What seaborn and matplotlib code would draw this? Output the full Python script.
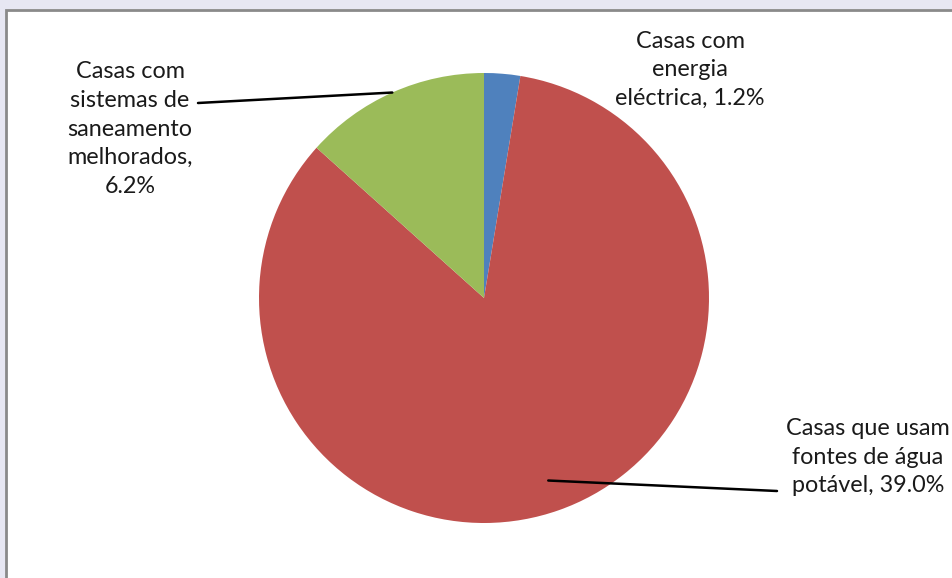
import numpy as np
import matplotlib
matplotlib.use("Agg")
import matplotlib.pyplot as plt
import seaborn as sns
from matplotlib.patches import Rectangle

categories = ["Casas com\nenergia\neléctrica", "Casas que usam\nfontes de água\npotável", "Casas com\nsistemas de\nsaneamento\nmelhorados"]
values = [1.2, 39.0, 6.2]
value_labels = ["1.2%", "39.0%", "6.2%"]
colors = ["#4F81BD", "#C0504D", "#9BBB59"]

sns.set_theme(style="white")
plt.rcParams['font.family'] = ['Lato', 'DejaVu Sans']

W, H = 952, 578
fig = plt.figure(figsize=(W / 100, H / 100), dpi=100)
fig.patch.set_facecolor("#e7e7f3")

# white chart area with gray border
fig.patches.append(Rectangle((6 / W, -0.01), 1.02, 1 - 10 / H + 0.01, transform=fig.transFigure,
                             facecolor="white", edgecolor="#8a8a8a", linewidth=2, zorder=-5))

cx, cy, r = 484, 298, 225
ax = fig.add_axes([(cx - r) / W, (H - cy - r) / H, 2 * r / W, 2 * r / H])
ax.set_zorder(2)
ax.set_facecolor("none")
wedges, _ = ax.pie(values, colors=sns.color_palette(colors), startangle=90, counterclock=False,
                   radius=1, wedgeprops=dict(linewidth=0))
ax.set_xlim(-1, 1)
ax.set_ylim(-1, 1)
ax.set_aspect("equal")
ax.axis("off")

fs = 16.8
# label positions in pixels (center of text block) and leader settings
label_pos = [(690, 70), (868, 457), (130, 129)]
leader = [None, (0.86, (777, 491)), (1.0, (198, 103))]

for i, w in enumerate(wedges):
    txt = f"{categories[i]}, {value_labels[i]}" if i != 2 else f"{categories[i]},\n{value_labels[i]}"
    lx, ly = label_pos[i]
    fig.text(lx / W, 1 - ly / H, txt, ha="center", va="center", fontsize=fs,
             color="#1a1a1a", linespacing=1.45, zorder=3)
    if leader[i] is not None:
        rr, (ex, ey) = leader[i]
        ang = np.deg2rad((w.theta1 + w.theta2) / 2)
        px, py = rr * np.cos(ang), rr * np.sin(ang)
        ax.annotate("", xy=(px, py), xycoords="data",
                    xytext=(ex / W, 1 - ey / H), textcoords="figure fraction",
                    arrowprops=dict(arrowstyle="-", color="black", lw=1.8, shrinkA=0, shrinkB=0),
                    annotation_clip=False)

fig.savefig("out.png", dpi=100)
